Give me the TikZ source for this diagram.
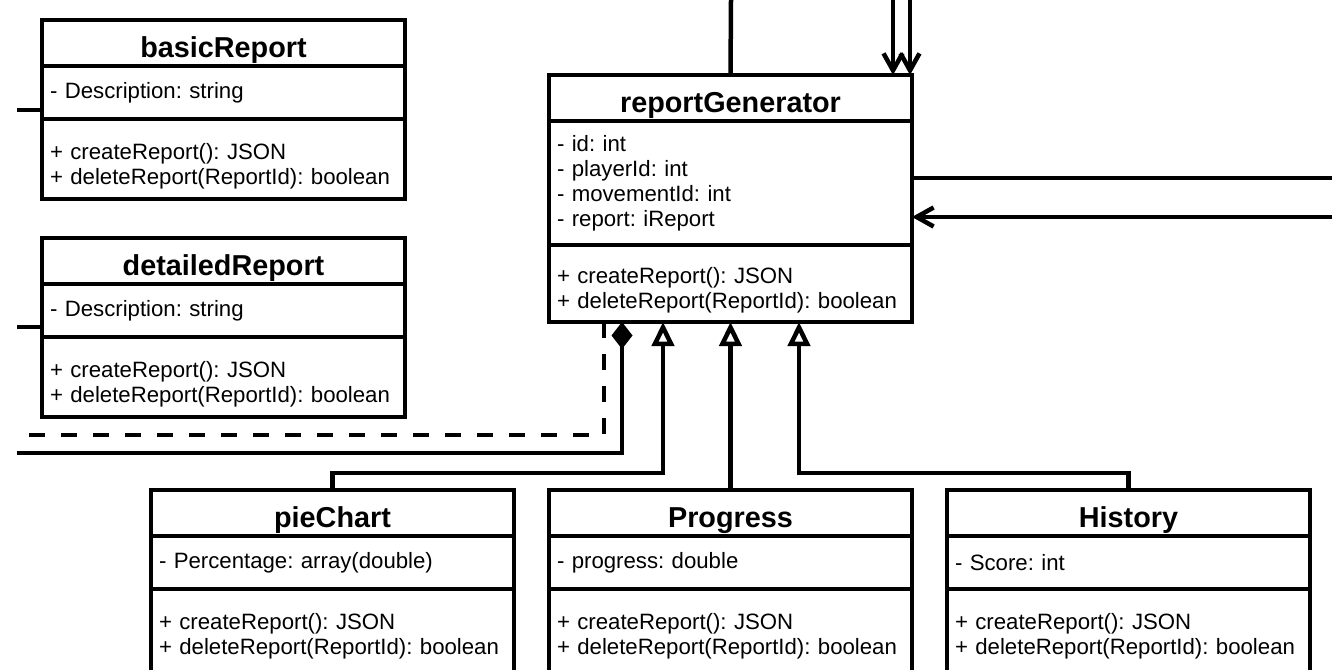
\documentclass[tikz,border=0pt]{standalone}
\usepackage{fontspec}
\setmainfont{Liberation Sans}
\usetikzlibrary{arrows.meta}

\tikzset{
  box/.style={draw, line width=4.5pt, anchor=north west, outer sep=0pt, inner ysep=0pt, minimum width=363pt},
  head/.style={box, font=\bfseries\fontsize{28.8}{34}\selectfont, minimum height=46pt, text height=28pt, text depth=0pt},
  body/.style={font=\frenchspacing\fontsize{22.2}{25}\selectfont, align=left, text width=347pt, inner xsep=8pt},
  attrs/.style={box, body, minimum height=#1},
  attrs/.default=53pt,
  meths/.style={box, body, minimum height=80pt, text height=30pt, text depth=30pt},
  lowmeths/.style={meths, minimum height=92pt, text height=24pt, text depth=36pt},
  conn/.style={line width=4.5pt},
  inherit/.style={conn, -{Triangle[open, length=24pt, width=22pt]}},
  comp/.style={conn, {Diamond[length=27pt, width=21pt]}-},
  nav/.style={conn, -{Straight Barb[length=17pt, width=19pt]}},
  dashline/.style={conn, dash pattern=on 16pt off 16pt}
}

\begin{document}
\begin{tikzpicture}[x=1pt, y=-1pt]
    \useasboundingbox (0,0) rectangle (1332,669);

    % report kinds on the left
    \node[head] (basicT) at (42,20) {basicReport};
    \node[attrs] (basicA) at (basicT.south west) {- Description: string};
    \node[meths] (basicM) at (basicA.south west) {+ createReport(): JSON\\+ deleteReport(ReportId): boolean};

    \node[head] (detT) at (42,238) {detailedReport};
    \node[attrs] (detA) at (detT.south west) {- Description: string};
    \node[meths] (detM) at (detA.south west) {+ createReport(): JSON\\+ deleteReport(ReportId): boolean};

    % generator
    \node[head] (rgT) at (549,75) {reportGenerator};
    \node[attrs=124pt] (rgA) at (rgT.south west) {- id: int\\- playerId: int\\- movementId: int\\- report: iReport};
    \node[meths, minimum height=77pt] (rgM) at (rgA.south west) {+ createReport(): JSON\\+ deleteReport(ReportId): boolean};

    % subclasses
    \node[head] (pieT) at (151,490) {pieChart};
    \node[attrs] (pieA) at (pieT.south west) {- Percentage: array(double)};
    \node[lowmeths] (pieM) at (pieA.south west) {+ createReport(): JSON\\+ deleteReport(ReportId): boolean};

    \node[head] (proT) at (549,490) {Progress};
    \node[attrs] (proA) at (proT.south west) {- progress: double};
    \node[lowmeths] (proM) at (proA.south west) {+ createReport(): JSON\\+ deleteReport(ReportId): boolean};

    \node[head] (hisT) at (947,490) {History};
    \node[attrs] (hisA) at (hisT.south west) {- Score: int};
    \node[lowmeths] (hisM) at (hisA.south west) {+ createReport(): JSON\\+ deleteReport(ReportId): boolean};

    % loose ends
    \coordinate (topA) at (731,0);
    \coordinate (topB) at (893,0);
    \coordinate (topC) at (910,0);
    \coordinate (rightA) at (1332,178);
    \coordinate (rightB) at (1332,217);
    \coordinate (stubB) at (17,110);
    \coordinate (stubD) at (17,327);
    \coordinate (leftDash) at (17,435);
    \coordinate (leftSolid) at (17,453);

    \coordinate (dashIn) at ([xshift=55pt]rgM.south west);
    \coordinate (diaIn) at ([xshift=73pt]rgM.south west);
    \coordinate (pieIn) at ([xshift=114pt]rgM.south west);
    \coordinate (hisIn) at ([xshift=250pt]rgM.south west);

    \draw[conn] (stubB) -- (stubB -| basicA.west);
    \draw[conn] (stubD) -- (stubD -| detA.west);

    \draw[conn] (topA) -- (rgT.north);
    \draw[nav] (topB) -- (topB |- rgT.north);
    \draw[nav] (topC) -- (topC |- rgT.north);
    \draw[conn] (rightA) -- (rightA -| rgA.east);
    \draw[nav] (rightB) -- (rightB -| rgA.east);

    \draw[dashline] (dashIn) |- (leftDash);
    \draw[comp] (diaIn) |- (leftSolid);

    \draw[inherit] (pieT.north) -- ++(0,-17) -| (pieIn);
    \draw[inherit] (proT.north) -- (proT.north |- rgM.south);
    \draw[inherit] (hisT.north) -- ++(0,-17) -| (hisIn);
\end{tikzpicture}
\end{document}
